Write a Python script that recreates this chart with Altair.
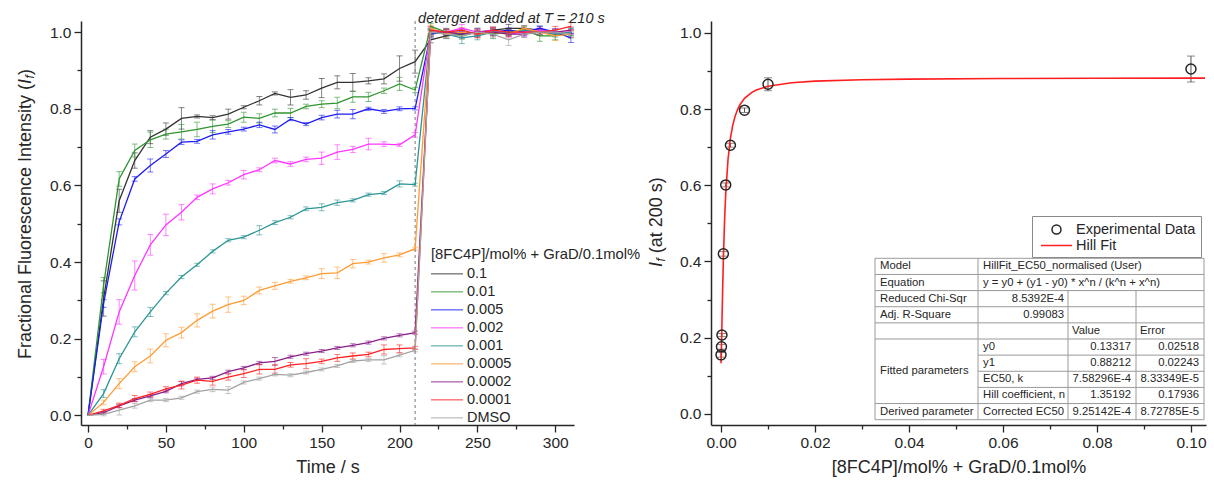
import altair as alt
import pandas as pd

FONT = "Liberation Sans"
INK = "#262626"

# ---------------- left panel: kinetics ----------------
TIME_S = [0, 10, 20, 30, 40, 50, 60, 70, 80, 90, 100, 110, 120, 130, 140, 150,
          160, 170, 180, 190, 200, 210, 220, 230, 240, 250, 260, 270, 280, 290, 300, 310]
SERIES = ["0.1", "0.01", "0.005", "0.002", "0.001", "0.0005", "0.0002", "0.0001", "DMSO"]
SERIES_COLORS = ["#333333", "#2f952f", "#1c1cf0", "#ff36ff", "#2d9595",
                 "#ff9b33", "#8a1f8a", "#ff2222", "#a3a3a3"]

IF_0_1 = [0.0, 0.305, 0.56, 0.665, 0.726, 0.747, 0.775, 0.780, 0.777, 0.786, 0.804, 0.821, 0.840, 0.830, 0.836, 0.854,
          0.869, 0.869, 0.873, 0.878, 0.905, 0.923, 0.98, 0.99, 0.995, 1.0, 1.005, 1.01, 1.01, 1.005, 1.0, 0.995]
IF_0_01 = [0.0, 0.34, 0.617, 0.691, 0.719, 0.734, 0.740, 0.746, 0.754, 0.760, 0.778, 0.775, 0.789, 0.789, 0.806, 0.812,
           0.815, 0.831, 0.831, 0.847, 0.865, 0.849, 1.015, 1.0, 0.99, 1.0, 0.995, 1.0, 1.005, 0.99, 0.99, 1.0]
IF_0_005 = [0.0, 0.292, 0.505, 0.617, 0.652, 0.682, 0.713, 0.715, 0.732, 0.740, 0.747, 0.758, 0.746, 0.773, 0.760, 0.777,
            0.786, 0.786, 0.800, 0.793, 0.800, 0.801, 0.995, 1.0, 1.0, 0.995, 1.0, 1.005, 1.0, 1.01, 1.0, 0.985]
IF_0_002 = [0.0, 0.127, 0.270, 0.365, 0.445, 0.497, 0.530, 0.569, 0.591, 0.607, 0.628, 0.641, 0.665, 0.656, 0.668, 0.671,
            0.687, 0.694, 0.708, 0.708, 0.706, 0.732, 1.005, 1.0, 1.01, 1.0, 1.005, 0.995, 1.0, 1.005, 1.0, 1.0]
IF_0_001 = [0.0, 0.057, 0.148, 0.218, 0.270, 0.319, 0.361, 0.393, 0.428, 0.457, 0.465, 0.483, 0.503, 0.517, 0.539, 0.543,
            0.555, 0.561, 0.576, 0.580, 0.604, 0.602, 1.0, 0.995, 0.985, 0.99, 1.0, 1.0, 1.005, 1.0, 0.995, 1.0]
IF_0_0005 = [0.0, 0.034, 0.083, 0.127, 0.155, 0.196, 0.216, 0.248, 0.272, 0.289, 0.300, 0.326, 0.338, 0.350, 0.359, 0.370,
             0.372, 0.396, 0.400, 0.411, 0.419, 0.435, 1.01, 0.995, 1.0, 0.995, 1.0, 0.995, 1.01, 1.0, 0.99, 0.995]
IF_0_0002 = [0.0, 0.007, 0.025, 0.040, 0.051, 0.063, 0.083, 0.094, 0.098, 0.114, 0.124, 0.137, 0.141, 0.153, 0.161, 0.168,
             0.176, 0.183, 0.190, 0.201, 0.209, 0.216, 1.0, 1.0, 0.995, 1.0, 1.0, 0.995, 0.995, 1.0, 1.0, 1.005]
IF_0_0001 = [0.0, 0.012, 0.026, 0.044, 0.055, 0.069, 0.079, 0.092, 0.089, 0.100, 0.109, 0.120, 0.120, 0.132, 0.135, 0.141,
             0.150, 0.155, 0.159, 0.172, 0.174, 0.176, 1.005, 1.0, 1.005, 0.995, 1.005, 1.0, 1.0, 1.0, 1.005, 1.015]
IF_DMSO = [0.0, 0.003, 0.014, 0.025, 0.040, 0.040, 0.046, 0.062, 0.068, 0.066, 0.086, 0.096, 0.107, 0.105, 0.112, 0.120,
           0.129, 0.142, 0.145, 0.145, 0.157, 0.170, 1.0, 0.995, 0.99, 1.0, 0.995, 0.98, 0.995, 1.0, 1.0, 0.995]

ERR_0_1 = [0, 0.046, 0.03, 0.02, 0.017, 0.016, 0.028, 0.004, 0.005, 0.013, 0.004, 0.011, 0.004, 0.02, 0.011, 0.025,
           0.017, 0.023, 0.008, 0.013, 0.033, 0.03, 0.008, 0.006, 0.01, 0.006, 0.008, 0.01, 0.007, 0.01, 0.008, 0.01]
ERR_0_01 = [0, 0.02, 0.019, 0.017, 0.02, 0.013, 0.019, 0.019, 0.016, 0.009, 0.013, 0.012, 0.01, 0.012, 0.006, 0.009,
            0.015, 0.014, 0.012, 0.007, 0.017, 0.007, 0.008, 0.01, 0.008, 0.01, 0.012, 0.008, 0.006, 0.014, 0.01, 0.008]
ERR_0_005 = [0, 0.01, 0.008, 0.006, 0.017, 0.009, 0.006, 0.005, 0.011, 0.006, 0.005, 0.007, 0.009, 0.004, 0.004, 0.006,
             0.01, 0.012, 0.004, 0.005, 0.005, 0.004, 0.01, 0.008, 0.006, 0.008, 0.01, 0.006, 0.008, 0.006, 0.008, 0.012]
ERR_0_002 = [0, 0.019, 0.032, 0.038, 0.027, 0.028, 0.02, 0.006, 0.013, 0.006, 0.011, 0.005, 0.006, 0.006, 0.006, 0.016,
             0.019, 0.008, 0.015, 0.006, 0.004, 0.006, 0.008, 0.006, 0.01, 0.008, 0.006, 0.008, 0.01, 0.006, 0.008, 0.006]
ERR_0_001 = [0, 0.01, 0.013, 0.013, 0.012, 0.004, 0.004, 0.004, 0.004, 0.004, 0.004, 0.012, 0.005, 0.004, 0.005, 0.009,
             0.007, 0.004, 0.004, 0.004, 0.008, 0.004, 0.01, 0.012, 0.015, 0.01, 0.008, 0.008, 0.01, 0.008, 0.008, 0.01]
ERR_0_0005 = [0, 0.006, 0.013, 0.013, 0.018, 0.017, 0.014, 0.017, 0.018, 0.02, 0.011, 0.009, 0.009, 0.005, 0.005, 0.013,
              0.015, 0.011, 0.005, 0.011, 0.005, 0.004, 0.008, 0.01, 0.006, 0.008, 0.01, 0.008, 0.006, 0.008, 0.012, 0.008]
ERR_0_0002 = [0, 0.003, 0.004, 0.004, 0.004, 0.004, 0.006, 0.003, 0.004, 0.004, 0.004, 0.004, 0.01, 0.004, 0.004, 0.004,
              0.004, 0.004, 0.004, 0.004, 0.004, 0.004, 0.008, 0.006, 0.008, 0.01, 0.008, 0.006, 0.008, 0.006, 0.008, 0.008]
ERR_0_0001 = [0, 0.004, 0.006, 0.008, 0.006, 0.006, 0.01, 0.008, 0.01, 0.008, 0.01, 0.012, 0.012, 0.006, 0.013, 0.006,
              0.009, 0.008, 0.006, 0.012, 0.01, 0.004, 0.01, 0.008, 0.006, 0.01, 0.008, 0.008, 0.006, 0.008, 0.01, 0.01]
ERR_DMSO = [0, 0.004, 0.013, 0.006, 0.004, 0.004, 0.004, 0.004, 0.006, 0.009, 0.004, 0.004, 0.004, 0.004, 0.004, 0.004,
            0.004, 0.004, 0.004, 0.011, 0.004, 0.004, 0.008, 0.01, 0.008, 0.006, 0.01, 0.015, 0.008, 0.006, 0.008, 0.008]

DETERGENT_T = [210]
DETERGENT_LABEL = ["detergent added at T = 210 s"]
LEFT_LEGEND_TITLE = "[8FC4P]/mol% + GraD/0.1mol%"

# ---------------- right panel: dose response ----------------
CONC = [0.0, 0.0001, 0.0002, 0.0005, 0.001, 0.002, 0.005, 0.01, 0.1]
IF200 = [0.155, 0.176, 0.207, 0.420, 0.601, 0.705, 0.797, 0.865, 0.905]
IF200_ERR = [0.006, 0.006, 0.004, 0.006, 0.005, 0.005, 0.006, 0.017, 0.034]
FIT_X = [0.0, 0.00005, 0.0001, 0.0002, 0.0003, 0.0005, 0.00075, 0.001, 0.0015, 0.002, 0.0025, 0.003,
         0.0035, 0.004, 0.005, 0.0065, 0.0075, 0.01, 0.015, 0.02, 0.03, 0.04, 0.06, 0.08, 0.1, 0.103]
FIT_Y = [0.1332, 0.1517, 0.1786, 0.2393, 0.2995, 0.4049, 0.5049, 0.5769, 0.6690, 0.7231, 0.7577, 0.7812,
         0.7980, 0.8106, 0.8279, 0.8432, 0.8498, 0.8599, 0.8691, 0.8733, 0.8770, 0.8786, 0.8801, 0.8807, 0.8811, 0.8812]
KINDS = ["Experimental Data", "Hill Fit"]
KIND_COLORS = ["#262626", "#ff1f1f"]

TABLE_COL1 = ["Model", "Equation", "Reduced Chi-Sqr", "Adj. R-Square", "", "", "", "", "", "Derived parameter"]
TABLE_MERGED = "Fitted parameters"
TABLE_COL2 = ["HillFit_EC50_normalised (User)", "y = y0 + (y1 - y0) * x^n  /  (k^n  +  x^n)", "8.5392E-4", "0.99083",
              "", "y0", "y1", "EC50, k", "Hill coefficient, n", "Corrected EC50"]
TABLE_COL3 = ["", "", "", "", "Value", "0.13317", "0.88212", "7.58296E-4", "1.35192", "9.25142E-4"]
TABLE_COL4 = ["", "", "", "", "Error", "0.02518", "0.02243", "8.33349E-5", "0.17936", "8.72785E-5"]

# ---------------- layout constants ----------------
LW, LH = 493, 404
RW, RH_ = 495, 404
TAB_X = [164, 267, 357, 425, 493]
TAB_Y0 = 237.3
TAB_ROW = 16.14

# ---------------- build data frames ----------------
vals = [IF_0_1, IF_0_01, IF_0_005, IF_0_002, IF_0_001, IF_0_0005, IF_0_0002, IF_0_0001, IF_DMSO]
errs = [ERR_0_1, ERR_0_01, ERR_0_005, ERR_0_002, ERR_0_001, ERR_0_0005, ERR_0_0002, ERR_0_0001, ERR_DMSO]
rows = []
for name, vs, es in zip(SERIES, vals, errs):
    for t, v, e in zip(TIME_S, vs, es):
        rows.append({"series": name, "t": t, "v": v, "lo": v - e, "hi": v + e, "err": e})
kin = pd.DataFrame(rows)
kin_err = kin[kin["err"] > 0]

pts = pd.DataFrame({"c": CONC, "v": IF200, "kind": KINDS[0]})
pts["lo"] = pts["v"] - pd.Series(IF200_ERR)
pts["hi"] = pts["v"] + pd.Series(IF200_ERR)
fit = pd.DataFrame({"c": FIT_X, "v": FIT_Y, "kind": KINDS[1]})
det = pd.DataFrame({"t": DETERGENT_T, "label": DETERGENT_LABEL})

# ---------------- axes ----------------
LX_TEST = "abs(datum.value/50 - round(datum.value/50)) < 0.001"
Y_TEST = "abs(datum.value*5 - round(datum.value*5)) < 0.001"
RX_TEST = "abs(datum.value*50 - round(datum.value*50)) < 0.001"


def make_axis(title, values, test, fmt, **kw):
    return alt.Axis(title=title, values=values, format=fmt,
                    labelExpr=f"({test}) ? datum.label : ''",
                    tickSize={"condition": {"test": test, "value": 7}, "value": 4},
                    labelOverlap=False, labelFlush=False, **kw)


AX_LX = make_axis("Time / s", [0, 25, 50, 75, 100, 125, 150, 175, 200, 225, 250, 275, 300], LX_TEST, "d",
                  labelPadding=3, titlePadding=8)
Y_TICKS = [0.0, 0.1, 0.2, 0.3, 0.4, 0.5, 0.6, 0.7, 0.8, 0.9, 1.0]
AX_LY = make_axis(None, Y_TICKS, Y_TEST, ".1f", labelPadding=3)
AX_RX = make_axis("[8FC4P]/mol% + GraD/0.1mol%",
                  [0.0, 0.01, 0.02, 0.03, 0.04, 0.05, 0.06, 0.07, 0.08, 0.09, 0.1], RX_TEST, ".2f",
                  labelPadding=3, titlePadding=8)
AX_RY = make_axis(None, Y_TICKS, Y_TEST, ".1f", labelPadding=3)

LEGEND_LINE = "M-2,0H2"
CIRCLE_PATH = "M-0.58,0A0.58,0.58 0 1,1 0.58,0A0.58,0.58 0 1,1 -0.58,0Z"

LEFT_LEGEND = alt.Legend(title=LEFT_LEGEND_TITLE, orient="none", legendX=350, legendY=226,
                         titleFont=FONT, titleFontSize=14.8, titleFontWeight="normal", titleColor=INK,
                         titleLimit=400, titlePadding=3, labelFont=FONT, labelFontSize=14.5, labelColor=INK,
                         labelLimit=200, labelOffset=11, symbolType=LEGEND_LINE, symbolSize=256,
                         symbolStrokeWidth=1.5, rowPadding=2, padding=0, symbolOffset=7)
RIGHT_LEGEND = alt.Legend(title=None, orient="none", legendX=321, legendY=195,
                          strokeColor="#8a8a8a", fillColor="white", padding=5,
                          labelFont=FONT, labelFontSize=14.5, labelColor=INK, labelLimit=300,
                          labelOffset=11, symbolSize=240, symbolStrokeWidth=1.5, rowPadding=0, symbolOffset=11)

# ---------------- left chart ----------------
lx = alt.X("t:Q", scale=alt.Scale(domain=[-4.5, 312], nice=False, zero=False), axis=AX_LX)


def ly(field):
    return alt.Y(f"{field}:Q", scale=alt.Scale(domain=[-0.025, 1.029], nice=False, zero=False), axis=AX_LY)


lcolor = alt.Color("series:N", scale=alt.Scale(domain=SERIES, range=SERIES_COLORS), legend=LEFT_LEGEND)

err_rule = alt.Chart(kin_err).mark_rule(strokeWidth=1, opacity=0.6).encode(
    x=lx, y=ly("lo"), y2="hi:Q", color=lcolor)
cap_lo = alt.Chart(kin_err).mark_tick(orient="horizontal", size=6, thickness=1, opacity=0.6).encode(
    x=lx, y=ly("lo"), color=lcolor)
cap_hi = alt.Chart(kin_err).mark_tick(orient="horizontal", size=6, thickness=1, opacity=0.6).encode(
    x=lx, y=ly("hi"), color=lcolor)
lines = alt.Chart(kin).mark_line(strokeWidth=1.3).encode(x=lx, y=ly("v"), color=lcolor)
det_rule = alt.Chart(det).mark_rule(color="#8c8c8c", strokeDash=[3, 3], strokeWidth=1.2).encode(x=lx)
det_text = alt.Chart(det).mark_text(align="left", baseline="middle", dx=3, font=FONT, fontSize=14.5,
                                     fontStyle="italic", color=INK).encode(
    x=lx, y=alt.value(-2), text="label:N")


def rot_text(s, x, y, size=18, style="normal"):
    return alt.Chart(pd.DataFrame({"s": [s]})).mark_text(
        angle=270, align="left", baseline="middle", font=FONT, fontSize=size, fontStyle=style, color=INK
    ).encode(x=alt.value(x), y=alt.value(y), text="s:N")


left_title = [
    rot_text("Fractional Fluorescence Intensity (", -55, 338),
    rot_text("I", -55, 62.9, style="italic"),
    rot_text("f", -51.5, 57.4, size=12, style="italic"),
    rot_text(")", -55, 54.1),
]

left = alt.layer(err_rule, cap_lo, cap_hi, det_rule, lines, det_text, *left_title).properties(
    width=LW, height=LH)

# ---------------- right chart ----------------
def rx(field):
    return alt.X(f"{field}:Q", scale=alt.Scale(domain=[-0.00213, 0.1032], nice=False, zero=False), axis=AX_RX)


def ry(field):
    return alt.Y(f"{field}:Q", scale=alt.Scale(domain=[-0.029, 1.031], nice=False, zero=False), axis=AX_RY)


rcolor = alt.Color("kind:N", scale=alt.Scale(domain=KINDS, range=KIND_COLORS), legend=RIGHT_LEGEND)
rshape = alt.Shape("kind:N", scale=alt.Scale(domain=KINDS, range=[CIRCLE_PATH, LEGEND_LINE]), legend=RIGHT_LEGEND)

r_err = alt.Chart(pts).mark_rule(color="#555555", strokeWidth=1).encode(x=rx("c"), y=ry("lo"), y2="hi:Q")
r_cap_lo = alt.Chart(pts).mark_tick(orient="horizontal", size=8, thickness=1, color="#555555").encode(
    x=rx("c"), y=ry("lo"))
r_cap_hi = alt.Chart(pts).mark_tick(orient="horizontal", size=8, thickness=1, color="#555555").encode(
    x=rx("c"), y=ry("hi"))
fit_line = alt.Chart(fit).mark_line(strokeWidth=1.6).encode(x=rx("c"), y=ry("v"), color=rcolor)
points = alt.Chart(pts).mark_point(filled=False, size=297, strokeWidth=1.5, opacity=1).encode(
    x=rx("c"), y=ry("v"), color=rcolor, shape=rshape)

right_data = alt.layer(r_err, r_cap_lo, r_cap_hi, fit_line, points)

# table (pixel-unit scales)
def row_y(k):
    return TAB_Y0 + k * TAB_ROW


grid = []
for k in range(11):
    x0 = TAB_X[1] if k in (6, 7, 8) else TAB_X[0]
    grid.append({"x": x0, "x2": TAB_X[4], "y": row_y(k), "y2": row_y(k)})
for j, xb in enumerate(TAB_X):
    k0 = 2 if j in (2, 3) else 0
    grid.append({"x": xb, "x2": xb, "y": row_y(k0), "y2": row_y(10)})
grid = pd.DataFrame(grid)

cells = []
PADL, PADR = 5, 5
for i in range(10):
    yc = row_y(i + 0.5)
    if TABLE_COL1[i]:
        cells.append({"s": TABLE_COL1[i], "px": TAB_X[0] + PADL, "py": yc, "al": "left"})
    if TABLE_COL2[i]:
        if i in (2, 3):
            cells.append({"s": TABLE_COL2[i], "px": TAB_X[2] - PADR + 1, "py": yc, "al": "right"})
        else:
            cells.append({"s": TABLE_COL2[i], "px": TAB_X[1] + PADL, "py": yc, "al": "left"})
    for col, xl, xr in ((TABLE_COL3, TAB_X[2], TAB_X[3]), (TABLE_COL4, TAB_X[3], TAB_X[4])):
        if col[i]:
            if i == 4:
                cells.append({"s": col[i], "px": xl + PADL - 1, "py": yc, "al": "left"})
            else:
                cells.append({"s": col[i], "px": xr - PADR, "py": yc, "al": "right"})
cells.append({"s": TABLE_MERGED, "px": TAB_X[0] + PADL, "py": row_y(7), "al": "left"})
cells = pd.DataFrame(cells)


def tx(field):
    return alt.X(f"{field}:Q", scale=alt.Scale(domain=[0, RW], nice=False, zero=False), axis=None)


def ty(field):
    return alt.Y(f"{field}:Q", scale=alt.Scale(domain=[RH_, 0], nice=False, zero=False), axis=None)


grid_rules = alt.Chart(grid).mark_rule(color="#9a9a9a", strokeWidth=1).encode(
    x=tx("x"), x2="x2:Q", y=ty("y"), y2="y2:Q")
text_left = alt.Chart(cells[cells["al"] == "left"]).mark_text(
    align="left", baseline="middle", font=FONT, fontSize=11.3, color=INK).encode(
    x=tx("px"), y=ty("py"), text="s:N")
text_right = alt.Chart(cells[cells["al"] == "right"]).mark_text(
    align="right", baseline="middle", font=FONT, fontSize=11.3, color=INK).encode(
    x=tx("px"), y=ty("py"), text="s:N")

right_title = [
    rot_text("I", -54, 246, style="italic"),
    rot_text("f", -50.5, 240.5, size=12, style="italic"),
    rot_text("(at 200 s)", -54, 232.2),
]

table_group = alt.layer(grid_rules, text_left, text_right, *right_title)

right = alt.layer(right_data, table_group).resolve_scale(x="independent", y="independent").properties(
    width=RW, height=RH_)

chart = alt.hconcat(left, right, spacing=137, bounds="flush").resolve_scale(
    color="independent", shape="independent"
).properties(
    padding={"left": 16, "top": 11, "right": 2, "bottom": 2}
).configure_axis(
    domainColor=INK, domainWidth=1.5, tickColor=INK, tickWidth=1.3,
    labelFont=FONT, labelFontSize=15.5, labelColor=INK,
    titleFont=FONT, titleFontSize=18, titleFontWeight="normal", titleColor=INK, grid=False
).configure_view(stroke=None)

chart.save("out.html", embed_options={"renderer": "svg", "actions": False})
